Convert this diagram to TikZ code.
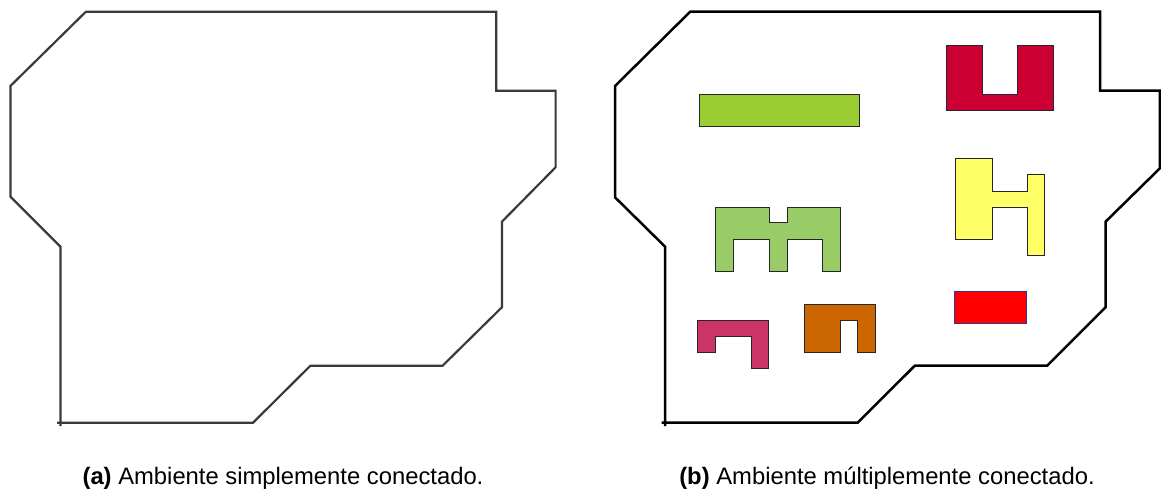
\documentclass[tikz,border=0pt]{standalone}
\usepackage{fontspec}
\setmainfont{Liberation Sans}
\begin{document}
\begin{tikzpicture}[x=1pt,y=-1pt,
  wall/.style={line width=2.2pt,line join=miter},
  obst/.style={draw=black!85,line width=1pt,line join=miter},
  captext/.style={anchor=base,inner sep=0pt,font=\fontsize{23.8}{28}\selectfont}]
\definecolor{wallgray}{HTML}{3A3A3A}
\definecolor{obgreenA}{HTML}{9ACD32}
\definecolor{obcrimson}{HTML}{CC0033}
\definecolor{obyellow}{HTML}{FFFF66}
\definecolor{obgreenB}{HTML}{99CC66}
\definecolor{obpink}{HTML}{CC3366}
\definecolor{oborange}{HTML}{CC6600}
\definecolor{obredline}{HTML}{333399}
\useasboundingbox (0,0) rectangle (1161,490);

% (a) simply connected environment
\draw[wall,draw=wallgray] (60.4,426) -- (60.4,246.7) -- (10.4,196.7) -- (10.4,86)
  -- (85.9,11.7) -- (496.3,11.7) -- (496.3,90.7) -- (555.6,90.7) -- (555.6,167.3)
  -- (501.9,221.7) -- (501.9,307.3) -- (442.6,365.7) -- (310.4,365.7)
  -- (253,422.7) -- (57,422.7);

% (b) multiply connected environment
\draw[wall,draw=black,line width=2.5pt] (665.1,426) -- (665.1,246.7) -- (615,197.3) -- (615,86)
  -- (690.2,11.7) -- (1100.2,11.7) -- (1100.2,90.7) -- (1159.9,90.7) -- (1159.9,168.3)
  -- (1105.5,221.7) -- (1105.5,307.3) -- (1047.2,365.7) -- (914.8,365.7)
  -- (857.6,422.7) -- (661.5,422.7);

% obstacles
\filldraw[obst,fill=obgreenA] (699.1,94.3) rectangle (859,126);
\filldraw[obst,fill=obcrimson] (946.3,45) -- (982.8,45) -- (982.8,94) -- (1017.9,94)
  -- (1017.9,45) -- (1053.7,45) -- (1053.7,110) -- (946.3,110) -- cycle;
\filldraw[obst,fill=obyellow] (955.3,158.3) -- (992.1,158.3) -- (992.1,191) -- (1027.5,191)
  -- (1027.5,174) -- (1044.7,174) -- (1044.7,255.3) -- (1027.5,255.3) -- (1027.5,207.3)
  -- (992.1,207.3) -- (992.1,239.3) -- (955.3,239.3) -- cycle;
\filldraw[obst,draw=obredline,fill=red] (954.6,291.7) rectangle (1026.1,323.7);
\filldraw[obst,fill=obgreenB] (715.2,207.3) -- (769.2,207.3) -- (769.2,222.7) -- (787.1,222.7)
  -- (787.1,207.3) -- (840.4,207.3) -- (840.4,271.7) -- (822.5,271.7) -- (822.5,239)
  -- (787.1,239) -- (787.1,271.7) -- (769.2,271.7) -- (769.2,239) -- (733.1,239)
  -- (733.1,271.7) -- (715.2,271.7) -- cycle;
\filldraw[obst,fill=obpink] (697.3,320) -- (768.5,320) -- (768.5,368.3) -- (751.3,368.3)
  -- (751.3,336.7) -- (715.2,336.7) -- (715.2,352.7) -- (697.3,352.7) -- cycle;
\filldraw[obst,fill=oborange] (804.3,304) -- (875.5,304) -- (875.5,352) -- (857.6,352)
  -- (857.6,320) -- (840.4,320) -- (840.4,352) -- (804.3,352) -- cycle;

% captions
\node[captext] (capa) at (283,484) {\textbf{(a)} Ambiente simplemente conectado.};
\node[captext] (capb) at (887,484) {\textbf{(b)} Ambiente múltiplemente conectado.};
\end{tikzpicture}
\end{document}
